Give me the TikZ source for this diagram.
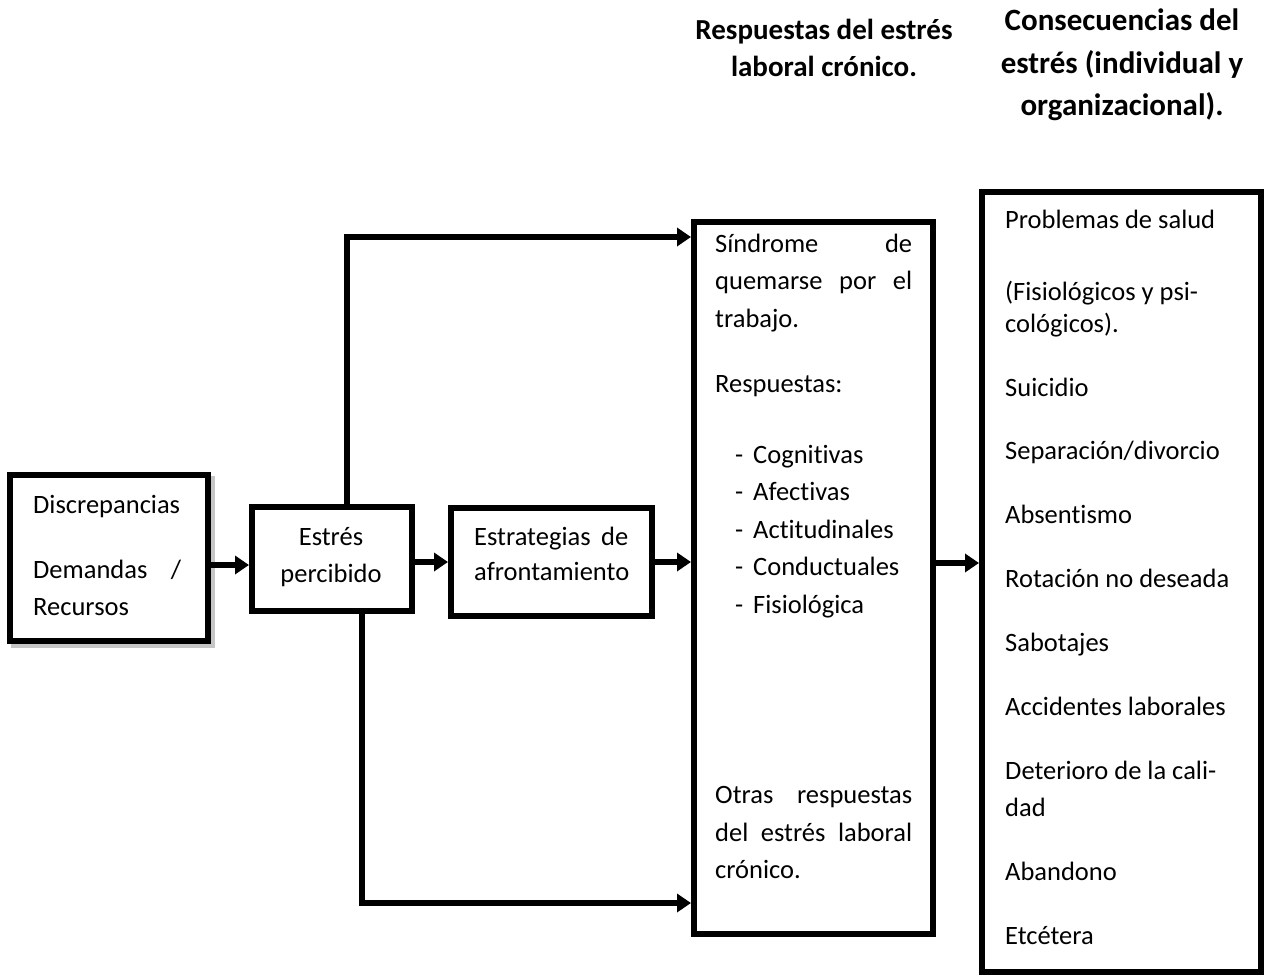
\documentclass[tikz,border=0pt]{standalone}
\usepackage{fontspec}
\setmainfont{Carlito}[Ligatures=NoCommon]
\usetikzlibrary{arrows.meta}
\newcommand{\fsn}{\fontsize{26.5pt}{37pt}\selectfont}
\newcommand{\fsh}{\fontsize{29pt}{37pt}\selectfont\bfseries}
\newcommand{\fshb}{\fontsize{31pt}{43pt}\selectfont\bfseries}
\begin{document}
\begin{tikzpicture}[x=1pt,y=-1pt,
  box/.style={draw, line width=6pt, inner sep=0pt, line join=miter},
  txt/.style={anchor=base west, inner sep=0pt, font=\fsn},
  ctxt/.style={anchor=base, inner sep=0pt, font=\fsn},
  hd/.style={anchor=base, inner sep=0pt, font=\fsh},
  hdb/.style={anchor=base, inner sep=0pt, font=\fshb},
  arr/.style={line width=6pt, line join=miter, -{Triangle[length=14pt,width=18pt]}}]
\useasboundingbox (0,0) rectangle (1268,976);

% boxes
\node[box, fill=white, minimum width=198pt, minimum height=166pt] (A) at (109,558) {};
\fill[gray!45] (A.south west) ++(4,0) rectangle ([shift={(4,4)}]A.south east);
\fill[gray!45] (A.north east) ++(0,4) rectangle ([shift={(4,4)}]A.south east);
\node[box, minimum width=198pt, minimum height=166pt] (A2) at (109,558) {};
\node[box, minimum width=160pt, minimum height=104pt] (B) at (332,559) {};
\node[box, minimum width=201pt, minimum height=108pt] (C) at (551.5,562) {};
\node[box, minimum width=239pt, minimum height=712pt] (D) at (813.5,578) {};
\node[box, minimum width=279pt, minimum height=780pt] (E) at (1121.5,582) {};

% helper coordinates
\coordinate (yab) at (0,565);
\coordinate (ybc) at (0,562);
\coordinate (ycd) at (0,562);
\coordinate (yde) at (0,563);
\coordinate (xtop) at (347,0);
\coordinate (ytop) at (0,237);
\coordinate (xbot) at (362,0);
\coordinate (ybot) at (0,903);

% connectors
\draw[arr] (A.east |- yab) -- (B.west |- yab);
\draw[arr] (B.east |- ybc) -- (C.west |- ybc);
\draw[arr] (C.east |- ycd) -- (D.west |- ycd);
\draw[arr] (D.east |- yde) -- (E.west |- yde);
\draw[arr] (B.north -| xtop) |- (D.west |- ytop);
\draw[arr] (B.south -| xbot) |- (D.west |- ybot);

% headers
\node[hd] (h1a) at (824,40) {Respuestas del estrés};
\node[hd] (h1b) at (824,77) {laboral crónico.};
\node[hdb] (h2a) at (1122,31) {Consecuencias del};
\node[hdb] (h2b) at (1122,74) {estrés (individual y};
\node[hdb] (h2c) at (1122,116) {organizacional).};

% box A text
\node[txt] (a1) at (33,513) {Discrepancias};
\node[txt] (a2) at (33,578) {\makebox[148pt][s]{Demandas /}};
\node[txt] (a3) at (33,615) {Recursos};

% box B text
\node[ctxt] (b1) at (331,545) {Estrés};
\node[ctxt] (b2) at (331,582) {percibido};

% box C text
\node[txt] (c1) at (474,545) {\makebox[154pt][s]{Estrategias de}};
\node[txt] (c2) at (474,580) {afrontamiento};

% box D text
\node[txt] (d1) at (715,252) {\makebox[197pt][s]{Síndrome de}};
\node[txt] (d2) at (715,289) {\makebox[197pt][s]{quemarse por el}};
\node[txt] (d3) at (715,327) {trabajo.};
\node[txt] (d4) at (715,392) {Respuestas:};
\foreach \t [count=\i from 0] in {Cognitivas,Afectivas,Actitudinales,Conductuales,Fisiológica}{
  \node[txt] (dd\i) at (735,463+37.5*\i) {-};
  \node[txt] (dl\i) at (753,463+37.5*\i) {\t};
}
\node[txt] (d5) at (715,803) {\makebox[197pt][s]{Otras respuestas}};
\node[txt] (d6) at (715,841) {\makebox[197pt][s]{del estrés laboral}};
\node[txt] (d7) at (715,878) {crónico.};

% box E text
\node[txt] (e1) at (1005,229) {Problemas de salud};
\node[txt] (e2) at (1005,300) {(Fisiológicos y psi-};
\node[txt] (e3) at (1005,332) {cológicos).};
\node[txt] (e4) at (1005,396) {Suicidio};
\node[txt] (e5) at (1005,459) {Separación/divorcio};
\node[txt] (e6) at (1005,523) {Absentismo};
\node[txt] (e7) at (1005,587) {Rotación no deseada};
\node[txt] (e8) at (1005,651) {Sabotajes};
\node[txt] (e9) at (1005,715) {Accidentes laborales};
\node[txt] (e10) at (1005,779) {Deterioro de la cali-};
\node[txt] (e11) at (1005,816) {dad};
\node[txt] (e12) at (1005,880) {Abandono};
\node[txt] (e13) at (1005,944) {Etcétera};
\end{tikzpicture}
\end{document}
